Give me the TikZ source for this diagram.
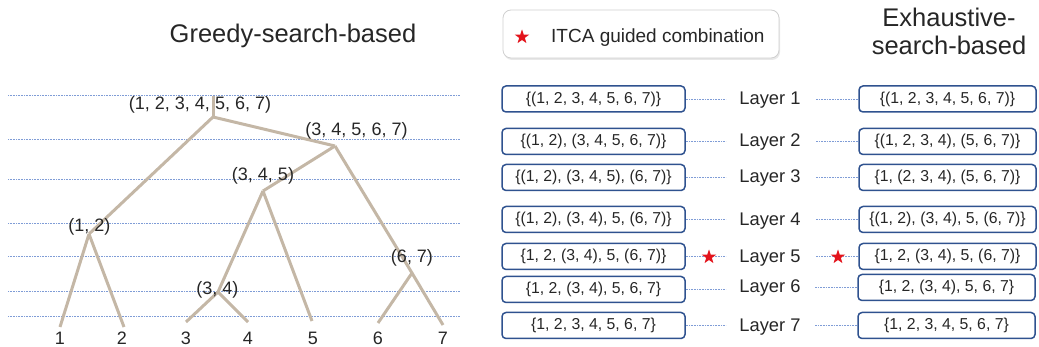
\documentclass[tikz,border=0pt]{standalone}
\usepackage{fontspec}
\setmainfont{Liberation Sans}
\usetikzlibrary{shapes.geometric,shadows}
\definecolor{txt}{HTML}{262626}
\definecolor{treec}{HTML}{C4B7A6}
\definecolor{dotc}{HTML}{7F9CD6}
\definecolor{boxc}{HTML}{2F528F}
\definecolor{starc}{HTML}{E3141C}
\definecolor{legc}{HTML}{D0D0D0}
\begin{document}
\begin{tikzpicture}[x=1pt,y=-1pt,
  every node/.style={text=txt,inner sep=0pt},
  treeedge/.style={draw=treec,line width=3pt},
  guide/.style={draw=dotc,line width=0.7pt,dash pattern=on 0.9pt off 0.7pt},
  setbox/.style={draw=boxc,line width=1.5pt,rounded corners=4pt,minimum height=26pt,font=\fontsize{15.8}{18}\selectfont},
  lbox/.style={setbox,minimum width=183pt},
  rbox/.style={setbox,minimum width=177pt},
  treelbl/.style={anchor=base,font=\fontsize{18}{21}\selectfont},
  layerlbl/.style={anchor=base,font=\fontsize{18.3}{21}\selectfont},
  titlelbl/.style={anchor=base,font=\fontsize{25.5}{29}\selectfont},
  starmark/.style={star,star points=5,star point ratio=2.5,fill=starc,draw=none,minimum size=15pt,inner sep=0pt}
]
\useasboundingbox (0,0) rectangle (1039,347);

% titles
\node[titlelbl] (gtitle) at (293,43) {Greedy-search-based};
\node[titlelbl] (etitle1) at (949,27) {Exhaustive-};
\node[titlelbl] (etitle2) at (949,55) {search-based};

% legend
\node[draw=legc,line width=0.8pt,rounded corners=8pt,minimum width=276pt,minimum height=48pt,fill=white,
      drop shadow={opacity=0.18,shadow xshift=1pt,shadow yshift=-2pt}] (legend) at (641,34) {};
\node[starmark] (legstar) at (522,37) {};
\node[anchor=base west,font=\fontsize{19}{22}\selectfont] (legtext) at (551,43) {ITCA guided combination};

% guide lines
\foreach \y in {95,139,179,223,256,291,316}
  \draw[guide] (8,\y) -- (460,\y);

% tree
\coordinate (rt) at (213,96);
\coordinate (r) at (213,117);
\coordinate (n34567) at (335,146);
\coordinate (n345) at (263,191);
\coordinate (n12) at (89,234);
\coordinate (n34) at (218,292);
\coordinate (n67) at (412,273);
\coordinate (l1) at (60,327);
\coordinate (l2) at (124,327);
\coordinate (l3) at (186,322);
\coordinate (l4) at (248,322);
\coordinate (l5) at (312,321);
\coordinate (l6) at (378,323);
\coordinate (l7) at (443,325);
\draw[treeedge] (rt) -- (r);
\draw[treeedge] (r) -- (n12);
\draw[treeedge] (r) -- (n34567);
\draw[treeedge] (n34567) -- (n345);
\draw[treeedge] (n34567) -- (n67) -- (l7);
\draw[treeedge] (n345) -- (n34);
\draw[treeedge] (n345) -- (l5);
\draw[treeedge] (n34) -- (l3);
\draw[treeedge] (n34) -- (l4);
\draw[treeedge] (n12) -- (l1);
\draw[treeedge] (n12) -- (l2);
\draw[treeedge] (n67) -- (l6);

% tree labels
\node[treelbl] (t1234567) at (200,110) {(1, 2, 3, 4, 5, 6, 7)};
\node[treelbl] (t34567) at (356.5,136) {(3, 4, 5, 6, 7)};
\node[treelbl] (t345) at (263,180.5) {(3, 4, 5)};
\node[treelbl] (t12) at (89.5,232) {(1, 2)};
\node[treelbl] (t67) at (412,263) {(6, 7)};
\node[treelbl] (t34) at (217.5,294.5) {(3, 4)};
\node[treelbl] (d1) at (60,344.3) {1};
\node[treelbl] (d2) at (122,344.3) {2};
\node[treelbl] (d3) at (186,344.3) {3};
\node[treelbl] (d4) at (248,344.3) {4};
\node[treelbl] (d5) at (313,344.3) {5};
\node[treelbl] (d6) at (378,344.3) {6};
\node[treelbl] (d7) at (443,344.3) {7};

% boxes
\node[lbox] (lb1) at (593.5,99) {\{(1, 2, 3, 4, 5, 6, 7)\}};
\node[lbox] (lb2) at (593.5,141.5) {\{(1, 2), (3, 4, 5, 6, 7)\}};
\node[lbox] (lb3) at (593.5,177.5) {\{(1, 2), (3, 4, 5), (6, 7)\}};
\node[lbox] (lb4) at (593.5,219.5) {\{(1, 2), (3, 4), 5, (6, 7)\}};
\node[lbox] (lb5) at (593.5,256.5) {\{1, 2, (3, 4), 5, (6, 7)\}};
\node[lbox] (lb6) at (593.5,289.5) {\{1, 2, (3, 4), 5, 6, 7\}};
\node[lbox] (lb7) at (593.5,325.5) {\{1, 2, 3, 4, 5, 6, 7\}};

\node[rbox] (rb1) at (947.5,99) {\{(1, 2, 3, 4, 5, 6, 7)\}};
\node[rbox] (rb2) at (947.5,141.5) {\{(1, 2, 3, 4), (5, 6, 7)\}};
\node[rbox] (rb3) at (947.5,177.5) {\{1, (2, 3, 4), (5, 6, 7)\}};
\node[rbox] (rb4) at (947.5,219.5) {\{(1, 2), (3, 4), 5, (6, 7)\}};
\node[rbox] (rb5) at (947.5,256.5) {\{1, 2, (3, 4), 5, (6, 7)\}};
\node[rbox] (rb6) at (946.5,287.5) {\{1, 2, (3, 4), 5, 6, 7\}};
\node[rbox] (rb7) at (946.5,325.5) {\{1, 2, 3, 4, 5, 6, 7\}};

% layer labels
\node[layerlbl] (L1) at (770,105) {Layer 1};
\node[layerlbl] (L2) at (770,147) {Layer 2};
\node[layerlbl] (L3) at (770,183) {Layer 3};
\node[layerlbl] (L4) at (770,226) {Layer 4};
\node[layerlbl] (L5) at (770,263) {Layer 5};
\node[layerlbl] (L6) at (770,293) {Layer 6};
\node[layerlbl] (L7) at (770,332) {Layer 7};

% connectors
\foreach \i in {1,...,7}{
  \draw[guide] (lb\i.east) -- ++(40,0) coordinate (le\i);
  \draw[guide] (rb\i.west) -- ++(-43,0) coordinate (re\i);
}
\node[starmark] (s5l) at (709,257) {};
\node[starmark] (s5r) at (838,257) {};
\end{tikzpicture}
\end{document}
